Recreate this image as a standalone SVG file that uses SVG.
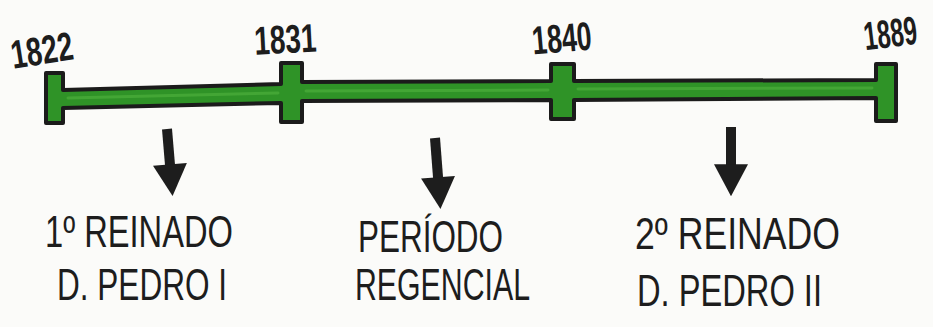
<svg xmlns="http://www.w3.org/2000/svg" width="933" height="327" viewBox="0 0 933 327">
  <style>
    .bar { fill: #2f9327; stroke: #1b1b1b; stroke-width: 4; stroke-linejoin: round; }
    .hl { fill: none; stroke: #52b23f; stroke-width: 3; stroke-linecap: round; opacity: 0.6; }
    .year { font-family: "Liberation Sans", "DejaVu Sans", sans-serif; font-size: 40px; font-weight: bold; fill: #1d1d1d; text-anchor: middle; }
    .lbl { font-family: "Liberation Sans", "DejaVu Sans", sans-serif; font-size: 44px; fill: #1d1d1d; }
    .arrow { stroke: #1d1d1d; stroke-width: 10; fill: none; marker-end: url(#head); }
  </style>
  <defs>
    <marker id="head" markerUnits="userSpaceOnUse" markerWidth="34" markerHeight="34" viewBox="0 0 30 32" refX="12" refY="16" orient="auto">
      <path d="M0,0 L30,16 L0,32 Z" fill="#1d1d1d"/>
    </marker>
  </defs>
  <rect x="0" y="0" width="933" height="327" fill="#fbfbf9"/>

  <g id="timeline">
    <path class="bar" d="M46,73 L63,73 L63,90 L281,84 L281,63 L302,63 L302,82 L551,81 L551,64 L574,64 L574,81 L876,80 L876,64 L896,64 L896,121 L876,121 L876,98 L574,100 L574,119 L551,119 L551,100 L302,101 L302,122 L281,122 L281,103 L63,108 L63,123 L46,123 Z"/>
    <path class="hl" d="M68,98 L278,93 M306,91 L548,90 M578,89 L872,88"/>
  </g>

  <g id="y1822">
    <text class="year" transform="translate(44 64) rotate(-9) scale(0.7 1)">1822</text>
  </g>
  <g id="y1831">
    <text class="year" transform="translate(286 53) rotate(-3) scale(0.7 1)">1831</text>
  </g>
  <g id="y1840">
    <text class="year" transform="translate(563 52) rotate(-5) scale(0.67 1)">1840</text>
  </g>
  <g id="y1889">
    <text class="year" transform="translate(892 47) rotate(-7) scale(0.6 1)">1889</text>
  </g>

  <g id="connectors">
    <line class="arrow" x1="167" y1="129" x2="171" y2="177"/>
    <line class="arrow" x1="435" y1="138" x2="439" y2="190"/>
    <line class="arrow" x1="731" y1="127" x2="731" y2="177"/>
  </g>

  <g id="reinado1">
    <text class="lbl" x="45" y="247" textLength="188" lengthAdjust="spacingAndGlyphs">1º REINADO</text>
    <text class="lbl" x="57" y="300" textLength="170" lengthAdjust="spacingAndGlyphs">D. PEDRO I</text>
  </g>
  <g id="regencia">
    <text class="lbl" x="358" y="252" textLength="145" lengthAdjust="spacingAndGlyphs">PERÍODO</text>
    <text class="lbl" x="355" y="300" textLength="175" lengthAdjust="spacingAndGlyphs">REGENCIAL</text>
  </g>
  <g id="reinado2">
    <text class="lbl" x="635" y="249" textLength="205" lengthAdjust="spacingAndGlyphs">2º REINADO</text>
    <text class="lbl" x="637" y="306" textLength="185" lengthAdjust="spacingAndGlyphs">D. PEDRO II</text>
  </g>
</svg>
